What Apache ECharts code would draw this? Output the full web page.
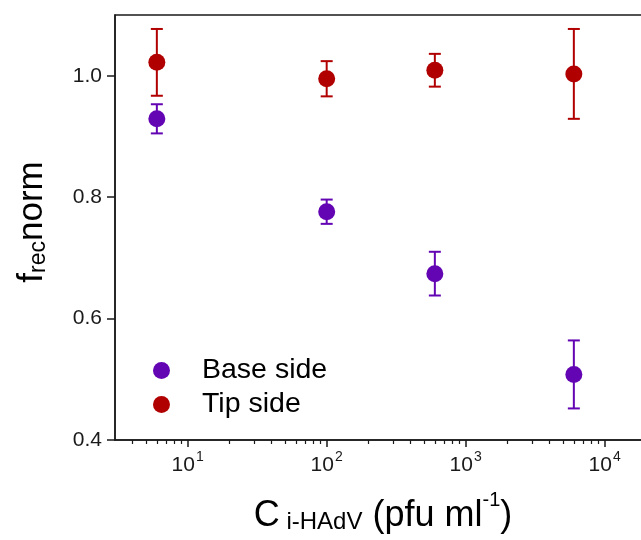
<!DOCTYPE html>
<html>
<head>
<meta charset="utf-8">
<script src="https://cdn.jsdelivr.net/npm/echarts@6/dist/echarts.min.js"></script>
<style>
  html, body { margin: 0; padding: 0; background: #fff; overflow: hidden; }
  /* the plot frame continues past the right edge of the window */
  #chart { width: 671px; height: 540px; }
</style>
</head>
<body>
<div id="chart"></div>
<script>
// Virus concentration (pfu/ml) for each measurement
const concentrations = [6, 100, 600, 6000];

// Normalised recovery fraction and its error, per side
const baseMean = [0.929, 0.776, 0.674, 0.508];
const baseErr  = [0.024, 0.020, 0.036, 0.056];
const tipMean  = [1.022, 0.995, 1.009, 1.003];
const tipErr   = [0.055, 0.029, 0.027, 0.074];

const seriesNames = ['Base side', 'Tip side'];
const colors = ['#6305B3', '#B10000'];

// Axis ticks
const xMajorTicks = [10, 100, 1000, 10000];
const xMinorTicks = [4, 5, 6, 7, 8, 9, 20, 30, 40, 50, 60, 70, 80, 90,
  200, 300, 400, 500, 600, 700, 800, 900,
  2000, 3000, 4000, 5000, 6000, 7000, 8000, 9000, 20000];
const yTicks = [0.4, 0.6, 0.8, 1.0];

const FONT = 'Liberation Sans, Arial, sans-serif';
const INK = '#1a1a1a';

function points(means) {
  return concentrations.map((c, i) => [c, means[i]]);
}
function errorRows(means, errs) {
  return concentrations.map((c, i) => [c, means[i] - errs[i], means[i] + errs[i]]);
}

function errorBarRenderer(color) {
  return function (params, api) {
    const top = api.coord([api.value(0), api.value(2)]);
    const bot = api.coord([api.value(0), api.value(1)]);
    const half = 6;
    const style = { stroke: color, lineWidth: 2 };
    return {
      type: 'group',
      children: [
        { type: 'line', shape: { x1: top[0], y1: top[1], x2: bot[0], y2: bot[1] }, style },
        { type: 'line', shape: { x1: top[0] - half, y1: top[1], x2: top[0] + half, y2: top[1] }, style },
        { type: 'line', shape: { x1: bot[0] - half, y1: bot[1], x2: bot[0] + half, y2: bot[1] }, style }
      ]
    };
  };
}

const grid = { left: 115, top: 15, right: 0, bottom: 100,
  show: true, borderColor: INK, borderWidth: 1.5, backgroundColor: 'transparent' };

const xRange = { min: 3, max: 30000 };

const option = {
  animation: false,
  backgroundColor: '#fff',
  grid: grid,
  xAxis: [
    {
      type: 'log', logBase: 10, min: xRange.min, max: xRange.max,
      position: 'bottom',
      axisLine: { show: true, lineStyle: { color: INK, width: 1.5 } },
      axisTick: { show: true, inside: false, length: 7, customValues: xMajorTicks,
        lineStyle: { color: INK, width: 1.5 } },
      splitLine: { show: false },
      axisLabel: {
        customValues: xMajorTicks,
        margin: 10,
        formatter: v => '{b|10}{s|' + Math.round(Math.log10(v)) + '}',
        rich: {
          b: { fontSize: 21, fontFamily: FONT, color: INK, verticalAlign: 'bottom', lineHeight: 26 },
          s: { fontSize: 14, fontFamily: FONT, color: INK, verticalAlign: 'top', lineHeight: 26, padding: [0, 0, 10, 1] }
        }
      }
    },
    {
      type: 'log', logBase: 10, min: xRange.min, max: xRange.max,
      position: 'bottom', gridIndex: 0,
      axisLine: { show: false },
      axisTick: { show: true, inside: false, length: 4, customValues: xMinorTicks,
        lineStyle: { color: INK, width: 1.2 } },
      axisLabel: { show: false },
      splitLine: { show: false }
    }
  ],
  yAxis: {
    type: 'value', min: 0.4, max: 1.1,
    axisLine: { show: true, lineStyle: { color: INK, width: 1.5 } },
    axisTick: { show: true, inside: false, length: 8, customValues: yTicks,
      lineStyle: { color: INK, width: 1.5 } },
    splitLine: { show: false },
    axisLabel: {
      customValues: yTicks,
      margin: 13,
      fontSize: 21, fontFamily: FONT, color: INK,
      formatter: v => v.toFixed(1)
    }
  },
  legend: {
    orient: 'vertical',
    left: 148, top: 351, padding: 5,
    itemWidth: 17, itemHeight: 17, itemGap: 5,
    icon: 'circle',
    data: seriesNames,
    textStyle: { fontSize: 28.5, fontFamily: FONT, color: '#000', padding: [0, 0, 0, 27] },
    selectedMode: false
  },
  graphic: [
    {
      type: 'text', x: 383, y: 490,
      style: {
        text: '{c|C}{sub| i-HAdV}{c| (pfu ml}{sup|-1}{c|)}',
        align: 'center',
        rich: {
          c: { fontSize: 36, fontFamily: FONT, fill: '#000', verticalAlign: 'bottom', lineHeight: 44 },
          sub: { fontSize: 24, fontFamily: FONT, fill: '#000', verticalAlign: 'bottom', lineHeight: 44, padding: [9, 0, 0, 0] },
          sup: { fontSize: 20, fontFamily: FONT, fill: '#000', verticalAlign: 'top', lineHeight: 44, padding: [0, 0, 15, 0] }
        }
      }
    },
    {
      type: 'text', x: 8, y: 222, rotation: Math.PI / 2,
      style: {
        text: '{c|f}{sub|rec}{c|norm}',
        align: 'center', verticalAlign: 'top',
        rich: {
          c: { fontSize: 35, fontFamily: FONT, fill: '#000', verticalAlign: 'bottom', lineHeight: 42 },
          sub: { fontSize: 23, fontFamily: FONT, fill: '#000', verticalAlign: 'bottom', lineHeight: 42, padding: [9, 0, 0, 0] }
        }
      }
    }
  ],
  series: [
    {
      name: seriesNames[0] + ' error', type: 'custom', xAxisIndex: 0,
      renderItem: errorBarRenderer(colors[0]),
      data: errorRows(baseMean, baseErr), z: 2, silent: true
    },
    {
      name: seriesNames[1] + ' error', type: 'custom', xAxisIndex: 0,
      renderItem: errorBarRenderer(colors[1]),
      data: errorRows(tipMean, tipErr), z: 2, silent: true
    },
    {
      name: seriesNames[0], type: 'scatter', xAxisIndex: 0,
      symbol: 'circle', symbolSize: 17,
      itemStyle: { color: colors[0], opacity: 1 },
      data: points(baseMean), z: 3
    },
    {
      name: seriesNames[1], type: 'scatter', xAxisIndex: 0,
      symbol: 'circle', symbolSize: 17,
      itemStyle: { color: colors[1], opacity: 1 },
      data: points(tipMean), z: 3
    }
  ]
};

const chart = echarts.init(document.getElementById('chart'), null, { renderer: 'canvas' });
chart.setOption(option);
</script>
</body>
</html>
